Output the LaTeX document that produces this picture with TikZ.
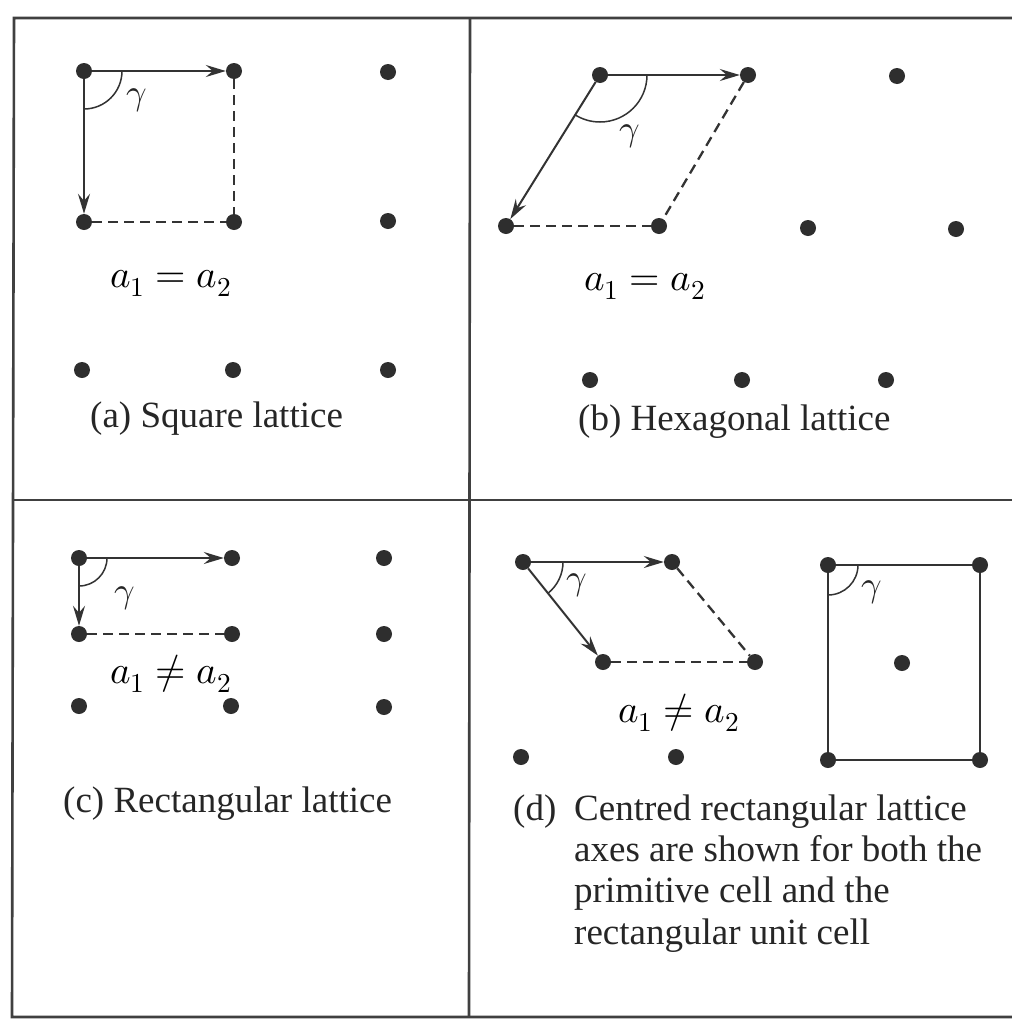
\documentclass[tikz,border=0pt]{standalone}
\usepackage{fontspec}
\usepackage{unicode-math}
\setmainfont{Liberation Serif}
\setmathfont{Latin Modern Math}
\usetikzlibrary{arrows.meta}
\begin{document}
\begin{tikzpicture}[x=1pt,y=1pt,
  dot/.style={circle,fill=black!82,draw=none,inner sep=0pt,minimum size=16pt},
  vec/.style={line width=2pt,draw=black!80,-{Stealth[length=20pt,width=12pt,inset=7pt]}},
  solidline/.style={line width=2pt,draw=black!80},
  dsh/.style={line width=2.3pt,draw=black!80,dash pattern=on 10pt off 6pt},
  anglearc/.style={line width=1.5pt,draw=black!80},
  frame/.style={line width=2.6pt,draw=black!75},
  caption/.style={font=\fontsize{37}{42}\selectfont,text=black!85,inner sep=0pt,anchor=base west},
  eqlabel/.style={font=\fontsize{39}{46}\selectfont,inner sep=0pt,anchor=base},
  glabel/.style={font=\fontsize{36}{42}\selectfont,text=black!85,inner sep=0pt}]
\useasboundingbox (0,0) rectangle (1012,-1023);
\fill[white] (0,0) rectangle (1012,-1023);
% frame
\coordinate (ftl) at (14,-18);
\coordinate (ftr) at (1012,-18);
\coordinate (fbl) at (12,-1017);
\coordinate (fbr) at (1012,-1017);
\coordinate (fml) at (13,-500);
\coordinate (fmr) at (1012,-500);
\coordinate (fmt) at (470,-18);
\coordinate (fmb) at (469,-1017);
\draw[frame] (ftr) -- (ftl) -- (fbl) -- (fbr);
\draw[frame] (fml) -- (fmr);
\draw[frame] (fmt) -- (fmb);

% ---------- (a) square lattice ----------
\node[dot] (a11) at (84,-71) {};
\node[dot] (a12) at (234,-71) {};
\node[dot] (a13) at (388,-72) {};
\node[dot] (a21) at (84,-222) {};
\node[dot] (a22) at (234,-222) {};
\node[dot] (a23) at (388,-221) {};
\node[dot] (a31) at (82,-370) {};
\node[dot] (a32) at (233,-370) {};
\node[dot] (a33) at (388,-370) {};
\draw[vec] (a11) -- (a12);
\draw[vec] (a11) -- (a21);
\draw[dsh] (a12) -- (a22);
\draw[dsh] (a21) -- (a22);
\draw[anglearc] ([shift={(0:38)}]a11.center) arc[start angle=0,end angle=-90,radius=38];
\node[glabel] (ga) at (137,-100) {$\gamma$};
\node[eqlabel] (eqa) at (171,-287) {$a_1 = a_2$};
\node[caption] (capa) at (90,-427) {(a) Square lattice};

% ---------- (b) hexagonal lattice ----------
\node[dot] (b11) at (600,-75) {};
\node[dot] (b12) at (748,-75) {};
\node[dot] (b13) at (897,-76) {};
\node[dot] (b21) at (506,-226) {};
\node[dot] (b22) at (659,-226) {};
\node[dot] (b23) at (808,-228) {};
\node[dot] (b24) at (956,-229) {};
\node[dot] (b31) at (590,-380) {};
\node[dot] (b32) at (742,-380) {};
\node[dot] (b33) at (886,-380) {};
\draw[vec] (b11) -- (b12);
\draw[vec] (b11) -- (b21);
\draw[dsh] (b12) -- (b22);
\draw[dsh] (b21) -- (b22);
\draw[anglearc] ([shift={(0:47)}]b11.center) arc[start angle=0,end angle=-122,radius=47];
\node[glabel] (gb) at (630,-136) {$\gamma$};
\node[eqlabel] (eqb) at (645,-290) {$a_1 = a_2$};
\node[caption] (capb) at (578,-430) {(b) Hexagonal lattice};

% ---------- (c) rectangular lattice ----------
\node[dot] (c11) at (79,-558) {};
\node[dot] (c12) at (232,-558) {};
\node[dot] (c13) at (384,-558) {};
\node[dot] (c21) at (79,-634) {};
\node[dot] (c22) at (232,-634) {};
\node[dot] (c23) at (384,-634) {};
\node[dot] (c31) at (79,-706) {};
\node[dot] (c32) at (231,-706) {};
\node[dot] (c33) at (384,-707) {};
\draw[vec] (c11) -- (c12);
\draw[vec] (c11) -- (c21);
\draw[dsh] (c21) -- (c22);
\draw[anglearc] ([shift={(0:28)}]c11.center) arc[start angle=0,end angle=-90,radius=28];
\node[glabel] (gc) at (125,-598) {$\gamma$};
\node[eqlabel] (eqc) at (171,-683) {$a_1 \neq a_2$};
\node[caption] (capc) at (63,-812) {(c) Rectangular lattice};

% ---------- (d) centred rectangular lattice ----------
\node[dot] (d11) at (523,-562) {};
\node[dot] (d12) at (672,-562) {};
\node[dot] (d21) at (603,-662) {};
\node[dot] (d22) at (755,-662) {};
\node[dot] (d31) at (521,-757) {};
\node[dot] (d32) at (676,-757) {};
\draw[vec] (d11) -- (d12);
\draw[vec] (d11) -- (d21);
\draw[dsh] (d12) -- (d22);
\draw[dsh] (d21) -- (d22);
\draw[anglearc] ([shift={(0:40)}]d11.center) arc[start angle=0,end angle=-51,radius=40];
\node[glabel] (gd1) at (577,-585) {$\gamma$};
\node[dot] (r1) at (828,-565) {};
\node[dot] (r2) at (980,-565) {};
\node[dot] (r3) at (980,-760) {};
\node[dot] (r4) at (828,-760) {};
\node[dot] (rc) at (902,-663) {};
\draw[solidline] (r1) -- (r2);
\draw[solidline] (r2) -- (r3);
\draw[solidline] (r3) -- (r4);
\draw[solidline] (r4) -- (r1);
\draw[anglearc] ([shift={(0:30)}]r1.center) arc[start angle=0,end angle=-90,radius=30];
\node[glabel] (gd2) at (872,-592) {$\gamma$};
\node[eqlabel] (eqd) at (679,-722) {$a_1 \neq a_2$};
\node[caption] (capd) at (513,-820) {(d)};
\node[caption] (capd1) at (574,-820) {Centred rectangular lattice};
\node[caption] (capd2) at (574,-861) {axes are shown for both the};
\node[caption] (capd3) at (574,-902) {primitive cell and the};
\node[caption] (capd4) at (574,-944) {rectangular unit cell};
\end{tikzpicture}
\end{document}
